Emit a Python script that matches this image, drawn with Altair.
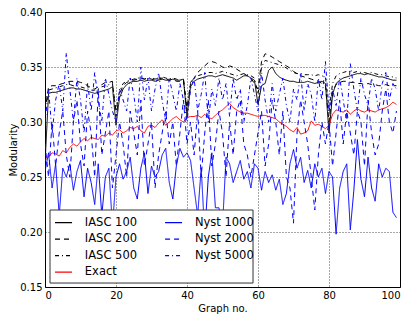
import altair as alt
import pandas as pd

x_vals = list(range(100))

iasc100 = [0.262, 0.326, 0.327, 0.327, 0.328, 0.329, 0.330, 0.331, 0.331, 0.330,
           0.330, 0.329, 0.328, 0.327, 0.326, 0.327, 0.328, 0.329, 0.330, 0.332,
           0.297, 0.322, 0.330, 0.334, 0.336, 0.337, 0.337, 0.338, 0.337, 0.338,
           0.338, 0.337, 0.338, 0.339, 0.338, 0.338, 0.339, 0.338, 0.338, 0.339,
           0.304, 0.332, 0.337, 0.339, 0.340, 0.341, 0.342, 0.342, 0.341, 0.342,
           0.343, 0.342, 0.341, 0.340, 0.338, 0.340, 0.342, 0.342, 0.340, 0.338,
           0.316, 0.333, 0.335, 0.347, 0.350, 0.344, 0.341, 0.339, 0.338, 0.337,
           0.337, 0.336, 0.336, 0.336, 0.337, 0.336, 0.335, 0.336, 0.337, 0.335,
           0.290, 0.325, 0.335, 0.338, 0.340, 0.341, 0.342, 0.343, 0.344, 0.344,
           0.343, 0.344, 0.343, 0.342, 0.341, 0.341, 0.340, 0.339, 0.338, 0.338]

iasc200 = [0.310, 0.332, 0.333, 0.333, 0.334, 0.335, 0.336, 0.337, 0.337, 0.337,
           0.336, 0.335, 0.333, 0.331, 0.330, 0.332, 0.334, 0.336, 0.336, 0.337,
           0.305, 0.325, 0.333, 0.336, 0.337, 0.338, 0.339, 0.340, 0.339, 0.340,
           0.339, 0.338, 0.339, 0.340, 0.339, 0.338, 0.339, 0.337, 0.337, 0.338,
           0.310, 0.335, 0.340, 0.345, 0.348, 0.351, 0.354, 0.355, 0.354, 0.352,
           0.350, 0.349, 0.351, 0.350, 0.348, 0.346, 0.344, 0.342, 0.340, 0.335,
           0.330, 0.355, 0.362, 0.361, 0.359, 0.357, 0.355, 0.353, 0.351, 0.349,
           0.346, 0.344, 0.342, 0.341, 0.340, 0.339, 0.338, 0.337, 0.335, 0.333,
           0.300, 0.328, 0.334, 0.336, 0.337, 0.337, 0.336, 0.336, 0.335, 0.335,
           0.334, 0.335, 0.334, 0.334, 0.333, 0.333, 0.334, 0.333, 0.333, 0.333]

iasc500 = [0.320, 0.329, 0.330, 0.331, 0.332, 0.333, 0.334, 0.334, 0.333, 0.333,
           0.332, 0.331, 0.330, 0.329, 0.329, 0.330, 0.332, 0.333, 0.334, 0.335,
           0.310, 0.328, 0.335, 0.337, 0.338, 0.339, 0.340, 0.340, 0.339, 0.340,
           0.340, 0.339, 0.340, 0.341, 0.340, 0.339, 0.340, 0.339, 0.338, 0.339,
           0.312, 0.336, 0.340, 0.342, 0.343, 0.344, 0.345, 0.345, 0.344, 0.345,
           0.346, 0.345, 0.344, 0.343, 0.342, 0.343, 0.344, 0.343, 0.342, 0.340,
           0.325, 0.350, 0.356, 0.355, 0.354, 0.353, 0.352, 0.351, 0.349, 0.347,
           0.345, 0.344, 0.344, 0.343, 0.343, 0.343, 0.342, 0.343, 0.342, 0.341,
           0.310, 0.335, 0.342, 0.344, 0.345, 0.346, 0.346, 0.345, 0.346, 0.345,
           0.345, 0.344, 0.345, 0.344, 0.343, 0.343, 0.342, 0.341, 0.341, 0.340]

exact = [0.265, 0.268, 0.272, 0.271, 0.269, 0.274, 0.272, 0.277, 0.280, 0.278,
         0.282, 0.285, 0.283, 0.286, 0.285, 0.284, 0.288, 0.287, 0.290, 0.288,
         0.292, 0.293, 0.290, 0.292, 0.295, 0.294, 0.296, 0.292, 0.290, 0.296,
         0.297, 0.295, 0.299, 0.302, 0.297, 0.300, 0.303, 0.305, 0.302, 0.300,
         0.304, 0.305, 0.305, 0.306, 0.304, 0.307, 0.304, 0.303, 0.306, 0.309,
         0.311, 0.314, 0.317, 0.313, 0.311, 0.309, 0.308, 0.308, 0.307, 0.306,
         0.305, 0.306, 0.306, 0.305, 0.304, 0.303, 0.300, 0.298, 0.296, 0.293,
         0.291, 0.295, 0.289, 0.290, 0.292, 0.301, 0.297, 0.298, 0.296, 0.294,
         0.297, 0.307, 0.311, 0.310, 0.309, 0.311, 0.307, 0.310, 0.312, 0.310,
         0.309, 0.311, 0.310, 0.309, 0.311, 0.312, 0.313, 0.315, 0.318, 0.316]

nyst1000 = [0.255, 0.272, 0.240, 0.262, 0.215, 0.258, 0.250, 0.262, 0.238, 0.255,
            0.265, 0.232, 0.258, 0.245, 0.225, 0.262, 0.215, 0.250, 0.258, 0.205,
            0.250, 0.262, 0.248, 0.255, 0.268, 0.240, 0.230, 0.258, 0.272, 0.235,
            0.260, 0.250, 0.255, 0.270, 0.276, 0.245, 0.230, 0.260, 0.276, 0.268,
            0.272, 0.265, 0.240, 0.215, 0.258, 0.198, 0.250, 0.272, 0.222, 0.222,
            0.205, 0.268, 0.262, 0.245, 0.255, 0.265, 0.248, 0.255, 0.240, 0.262,
            0.258, 0.238, 0.255, 0.245, 0.252, 0.238, 0.248, 0.225, 0.235, 0.262,
            0.275, 0.258, 0.268, 0.245, 0.256, 0.240, 0.262, 0.250, 0.258, 0.235,
            0.255, 0.250, 0.198, 0.240, 0.255, 0.262, 0.202, 0.238, 0.284, 0.248,
            0.232, 0.268, 0.240, 0.228, 0.262, 0.250, 0.258, 0.255, 0.218, 0.213]

nyst2000 = [0.280, 0.250, 0.300, 0.260, 0.290, 0.310, 0.270, 0.250, 0.300, 0.320,
            0.280, 0.260, 0.310, 0.290, 0.250, 0.330, 0.270, 0.290, 0.310, 0.240,
            0.270, 0.300, 0.280, 0.250, 0.310, 0.290, 0.270, 0.320, 0.260, 0.280,
            0.300, 0.240, 0.270, 0.290, 0.310, 0.280, 0.300, 0.260, 0.290, 0.320,
            0.280, 0.300, 0.270, 0.310, 0.250, 0.290, 0.320, 0.260, 0.280, 0.310,
            0.290, 0.250, 0.300, 0.270, 0.310, 0.320, 0.280, 0.270, 0.250, 0.270,
            0.290, 0.310, 0.260, 0.280, 0.320, 0.300, 0.270, 0.310, 0.250, 0.240,
            0.208, 0.290, 0.320, 0.300, 0.280, 0.250, 0.220, 0.270, 0.300, 0.280,
            0.300, 0.260, 0.290, 0.320, 0.280, 0.310, 0.290, 0.270, 0.310, 0.300,
            0.260, 0.320, 0.290, 0.270, 0.280, 0.310, 0.330, 0.300, 0.290, 0.310]

nyst5000 = [0.300, 0.330, 0.290, 0.320, 0.335, 0.310, 0.363, 0.330, 0.300, 0.340,
            0.320, 0.290, 0.335, 0.310, 0.345, 0.320, 0.300, 0.340, 0.325, 0.310,
            0.300, 0.330, 0.320, 0.310, 0.340, 0.325, 0.300, 0.350, 0.320, 0.340,
            0.310, 0.330, 0.345, 0.320, 0.300, 0.340, 0.325, 0.310, 0.335, 0.320,
            0.300, 0.330, 0.340, 0.310, 0.325, 0.345, 0.300, 0.330, 0.315, 0.340,
            0.320, 0.335, 0.305, 0.340, 0.320, 0.330, 0.300, 0.315, 0.340, 0.325,
            0.310, 0.345, 0.320, 0.300, 0.335, 0.310, 0.325, 0.340, 0.315, 0.300,
            0.330, 0.320, 0.345, 0.310, 0.335, 0.325, 0.300, 0.340, 0.320, 0.355,
            0.310, 0.330, 0.315, 0.340, 0.320, 0.300, 0.353, 0.330, 0.310, 0.340,
            0.325, 0.315, 0.340, 0.330, 0.310, 0.335, 0.345, 0.320, 0.335, 0.330]

series_names = ["IASC 100", "IASC 200", "IASC 500", "Exact", "Nyst 1000", "Nyst 2000", "Nyst 5000"]
series_values = [iasc100, iasc200, iasc500, exact, nyst1000, nyst2000, nyst5000]
series_colors = ["black", "black", "black", "red", "blue", "blue", "blue"]
series_dashes = [[1, 0], [5, 4], [4, 3, 1, 3], [1, 0], [1, 0], [5, 4], [4, 3, 1, 3]]

rows = []
for k, (name, vals) in enumerate(zip(series_names, series_values)):
    for xv, yv in zip(x_vals, vals):
        rows.append({"x": xv, "y": yv, "series": name, "k": k})
df = pd.DataFrame(rows)

# legend table (matplotlib-like box, column-major, 4 rows per column)
leg_rows = []
for i, name in enumerate(series_names):
    col, row = i // 4, i % 4
    sx = 2.82 + col * 31.0
    leg_rows.append({"series": name, "sx": sx, "sx2": sx + 4.8, "tx": sx + 8.4,
                     "sy": 0.2085 - row * 0.0150})
leg_df = pd.DataFrame(leg_rows)
box_df = pd.DataFrame({"bx": [1.41], "bx2": [58.6], "by": [0.2200], "by2": [0.1536]})

xscale = alt.Scale(domain=[0, 100], nice=False)
yscale = alt.Scale(domain=[0.15, 0.40], nice=False, zero=False)
cscale = alt.Scale(domain=series_names, range=series_colors)
dscale = alt.Scale(domain=series_names, range=series_dashes)

lines = alt.Chart(df).mark_line(strokeWidth=1, clip=True).encode(
    x=alt.X("x:Q", scale=xscale,
            axis=alt.Axis(title="Graph no.", values=[0, 20, 40, 60, 80, 100])),
    y=alt.Y("y:Q", scale=yscale,
            axis=alt.Axis(title="Modularity", values=[0.15, 0.20, 0.25, 0.30, 0.35, 0.40], format=".2f")),
    color=alt.Color("series:N", scale=cscale, legend=None),
    strokeDash=alt.StrokeDash("series:N", scale=dscale, legend=None),
    order=alt.Order("x:Q"),
)

box = alt.Chart(box_df).mark_rect(fill="white", stroke="#333333", strokeWidth=1).encode(
    x="bx:Q", x2="bx2:Q", y="by:Q", y2="by2:Q",
)

symbols = alt.Chart(leg_df).mark_rule(strokeWidth=1.2).encode(
    x="sx:Q", x2="sx2:Q", y="sy:Q",
    color=alt.Color("series:N", scale=cscale, legend=None),
    strokeDash=alt.StrokeDash("series:N", scale=dscale, legend=None),
)

labels = alt.Chart(leg_df).mark_text(
    align="left", baseline="middle", fontSize=11.5, font="DejaVu Sans", color="black"
).encode(x="tx:Q", y="sy:Q", text="series:N")

chart = alt.layer(lines, box, symbols, labels).properties(
    width=355, height=275,
    autosize=alt.AutoSizeParams(type="none"),
    padding={"left": 37, "top": 4, "right": 2, "bottom": 29},
).configure_view(
    stroke="black", strokeWidth=1,
).configure_axis(
    grid=True, gridColor="black", gridDash=[1, 2], gridOpacity=0.7, gridWidth=1,
    domain=False, ticks=False, labelFont="DejaVu Sans", labelFontSize=10, labelColor="black",
    titleFont="DejaVu Sans", titleFontSize=10, titleFontWeight="normal", titleColor="black",
    labelPadding=3,
).configure_axisY(
    titlePadding=1,
).configure_axisX(
    titlePadding=3,
)

chart.save("out.html", embed_options={"renderer": "svg", "actions": False})
